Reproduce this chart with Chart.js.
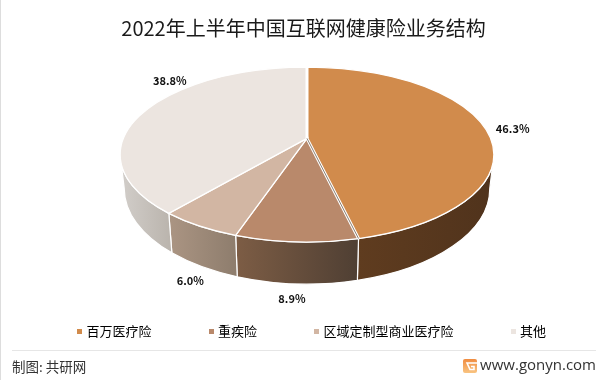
<!DOCTYPE html>
<html>
<head>
<meta charset="utf-8">
<style>
  html, body { margin: 0; padding: 0; background: #fff; }
  #wrap { width: 602px; height: 380px; }
</style>
<script src="https://cdn.jsdelivr.net/npm/chart.js@4"></script>
</head>
<body>
<div id="wrap"><canvas id="pie" width="602" height="380"></canvas></div>
<script>
const chartTitle = '2022年上半年中国互联网健康险业务结构';
const categories = ['百万医疗险', '重疾险', '区域定制型商业医疗险', '其他'];
const shares = [46.3, 8.9, 6.0, 38.8];
const topColors = ['#D18B4C', '#B9896B', '#D2B6A3', '#ECE5E0'];
const wallColors = [
  ['#5F3C1F', '#50331C'],
  ['#7D5D45', '#4F3F33'],
  ['#AB9583', '#8E7D6D'],
  ['#D2CECA', '#BBB5AE']
];
const fontFamily = '"Noto Sans CJK SC", "Noto Sans", sans-serif';

// how the flat pie is tilted into the 3D look (relative to the arc chart.js laid out)
const tilt = { dx: 5.5, dy: 2, rx: 1.661, ry: 0.777, apex: 0.184, k: 0.0925, floorDy: 0.3034, floorRx: 1.6245, floorRy: 0.848 };
// label offset from the rim of each slice
const labelShift = [[27, 0], [-4.5, 57], [-9, 55], [25, -30]];

// perspective: slice angle -> parameter on the top ellipse
function rimAngle(a) {
  const c = Math.cos(a), s = Math.sin(a), k = tilt.k;
  const nx = c, ny = s - k, dx = 1 - k * s, dy = k * c;
  return Math.atan2(ny * dx - nx * dy, nx * dx + ny * dy);
}

function sliceRange(arc) {
  const from = rimAngle(arc.startAngle);
  let to = rimAngle(arc.endAngle);
  while (to <= from) to += Math.PI * 2;
  return [from, to];
}

const pie3d = {
  id: 'pie3d',
  beforeDatasetsDraw(chart) {
    const ctx = chart.ctx;
    const arcs = chart.getDatasetMeta(0).data;
    const r = arcs[0].outerRadius;
    const cx = arcs[0].x + tilt.dx, cy = arcs[0].y + tilt.dy;
    const rx = r * tilt.rx, ry = r * tilt.ry;
    const ax = cx, ay = cy - ry * tilt.apex;
    const fy = cy + r * tilt.floorDy, frx = r * tilt.floorRx, fry = r * tilt.floorRy;

    ctx.save();
    // side walls first, only the part facing us
    arcs.forEach((arc, i) => {
      let [from, to] = sliceRange(arc);
      if (to > Math.PI * 2.5) { from -= Math.PI * 2; to -= Math.PI * 2; }
      const a = Math.max(from, 0), b = Math.min(to, Math.PI);
      if (b <= a) return;
      const x0 = cx + rx * Math.cos(b), x1 = cx + rx * Math.cos(a);
      const grad = ctx.createLinearGradient(x0, 0, x1, 0);
      grad.addColorStop(0, wallColors[i][0]);
      grad.addColorStop(1, wallColors[i][1]);
      ctx.beginPath();
      ctx.ellipse(cx, cy, rx, ry, 0, a, b);
      ctx.ellipse(cx, fy, frx, fry, 0, b, a, true);
      ctx.closePath();
      ctx.fillStyle = grad;
      ctx.fill();
      ctx.strokeStyle = '#fff';
      ctx.lineWidth = 1.2;
      ctx.stroke();
    });
    // top faces
    arcs.forEach((arc, i) => {
      const [from, to] = sliceRange(arc);
      ctx.beginPath();
      ctx.moveTo(ax, ay);
      ctx.ellipse(cx, cy, rx, ry, 0, from, to);
      ctx.closePath();
      ctx.fillStyle = topColors[i];
      ctx.fill();
      ctx.strokeStyle = '#fff';
      ctx.lineWidth = 1.3;
      ctx.stroke();
    });
    // the big slice sits a little apart from the others
    const [first, last] = sliceRange(arcs[0]);
    const rimX = a => cx + rx * Math.cos(a), rimY = a => cy + ry * Math.sin(a);
    ctx.strokeStyle = '#fff';
    ctx.lineWidth = 3;
    ctx.beginPath();
    ctx.moveTo(ax, ay); ctx.lineTo(rimX(first), rimY(first) - 1);
    ctx.moveTo(ax, ay); ctx.lineTo(rimX(last), rimY(last));
    ctx.stroke();
    ctx.strokeStyle = '#5A4736';
    ctx.lineWidth = 0.7;
    ctx.beginPath();
    ctx.moveTo(ax, ay); ctx.lineTo(rimX(last), rimY(last));
    ctx.stroke();

    // percent labels
    ctx.font = 'bold 11px ' + fontFamily;
    ctx.fillStyle = '#111';
    ctx.textAlign = 'center';
    ctx.textBaseline = 'middle';
    arcs.forEach((arc, i) => {
      const mid = rimAngle((arc.startAngle + arc.endAngle) / 2);
      ctx.fillText(shares[i].toFixed(1) + '%', rimX(mid) + labelShift[i][0], rimY(mid) + labelShift[i][1]);
    });
    ctx.restore();
    return false;
  },
  afterDraw(chart) {
    const ctx = chart.ctx;
    ctx.save();
    // page edge and footer rule
    ctx.fillStyle = '#DDDDDD';
    ctx.fillRect(0, 0, 1, 380);
    ctx.fillStyle = '#E6E6E6';
    ctx.fillRect(12, 350, 584, 1);
    // footer text
    ctx.fillStyle = '#333';
    ctx.textBaseline = 'middle';
    ctx.textAlign = 'left';
    ctx.font = '13.5px ' + fontFamily;
    ctx.fillText('制图: 共研网', 12, 367);
    ctx.font = '15px "Open Sans", "DejaVu Sans", sans-serif';
    ctx.textAlign = 'right';
    ctx.fillText('www.gonyn.com', 596, 366);
    // logo
    const grad = ctx.createLinearGradient(0, 359, 0, 373);
    grad.addColorStop(0, '#F08C40');
    grad.addColorStop(1, '#F9C481');
    ctx.fillStyle = grad;
    ctx.beginPath();
    ctx.roundRect(463, 359, 14, 14, 2);
    ctx.fill();
    ctx.strokeStyle = '#fff';
    ctx.lineWidth = 1.6;
    ctx.beginPath();
    ctx.moveTo(477, 363);
    ctx.lineTo(467, 363);
    ctx.lineTo(470, 369.5);
    ctx.lineTo(474, 369.5);
    ctx.lineTo(474, 366.5);
    ctx.lineTo(471, 366.5);
    ctx.stroke();
    ctx.restore();
  }
};

function marker(color) {
  const c = document.createElement('canvas');
  c.width = 5;
  c.height = 5;
  const g = c.getContext('2d');
  g.fillStyle = color;
  g.fillRect(0, 0, 5, 5);
  return c;
}

new Chart(document.getElementById('pie'), {
  type: 'pie',
  data: {
    labels: categories,
    datasets: [{ data: shares, backgroundColor: topColors, borderWidth: 0 }]
  },
  options: {
    responsive: false,
    animation: false,
    layout: { padding: { left: 1, right: -4, bottom: 32 } },
    plugins: {
      title: {
        display: true,
        text: chartTitle,
        color: '#1A1A1A',
        font: { family: fontFamily, size: 20, weight: 'normal' },
        padding: { top: 16, bottom: 0 }
      },
      legend: {
        position: 'bottom',
        align: 'end',
        labels: {
          usePointStyle: true,
          boxWidth: 0.01,
          boxHeight: 5,
          padding: 60,
          color: '#222',
          font: { family: fontFamily, size: 13 },
          generateLabels: () => categories.map((text, i) => ({
            text,
            fillStyle: topColors[i],
            strokeStyle: topColors[i],
            lineWidth: 0,
            pointStyle: marker(topColors[i]),
            hidden: false,
            index: i
          }))
        }
      },
      tooltip: { enabled: false }
    }
  },
  plugins: [pie3d]
});
</script>
</body>
</html>
